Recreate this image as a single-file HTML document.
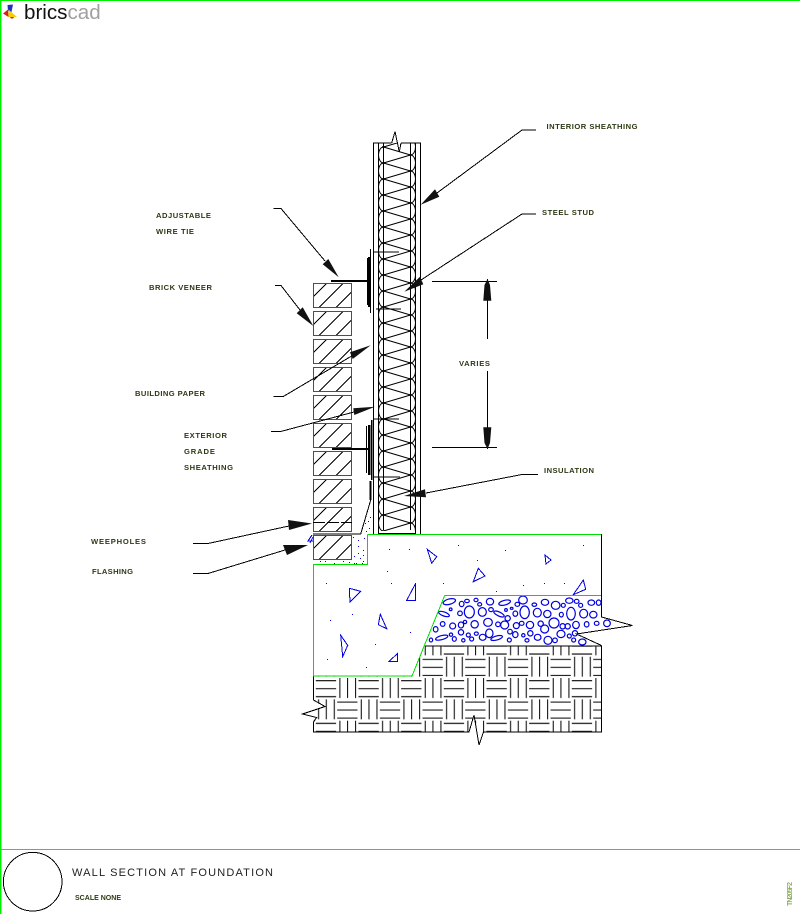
<!DOCTYPE html>
<html><head><meta charset="utf-8"><title>Wall Section at Foundation</title>
<style>html,body{margin:0;padding:0;background:#fff}svg{display:block}
text{font-family:"Liberation Sans",sans-serif}
.l{font-size:7.6px;fill:#2c3a14;font-weight:bold;stroke:none}</style></head><body>
<svg width="800" height="914" viewBox="0 0 800 914" xmlns="http://www.w3.org/2000/svg">
<defs>
<pattern id="weave" patternUnits="userSpaceOnUse" x="443.3" y="656.7" width="42.667" height="42.667">
<g stroke="#000" stroke-width="1" fill="none">
<path d="M3.3 0V20M11 0V20M19 0V20"/>
<path d="M21.9 2.7H42.2M21.9 10.7H42.2M21.9 18.7H42.2"/>
<path d="M0.5 24H20.8M0.5 32H20.8M0.5 40H20.8"/>
<path d="M24.6 21.3V41.3M32.3 21.3V41.3M40.3 21.3V41.3"/>
</g></pattern>
<clipPath id="insClip"><rect x="376" y="143" width="42" height="388"/></clipPath>
<g id="insT" fill="none" stroke="#000" stroke-width="1">
<path d="M383.5 8L410.5 0M383.5 8L410.5 16"/>
<path d="M383.5 8A5 8 0 0 0 383.5 24"/>
<path d="M410.5 0A5 8 0 0 1 410.5 16"/>
<path d="M382 8H385.5M408.5 0H412" stroke-width="1.6"/>
</g>
<g id="brick">
<path d="M0 13.4L13.4 0M6 24L30 0M22.7 24L38.4 8.3" stroke="#000" stroke-width="1" fill="none"/>
<rect x="0" y="0" width="38.4" height="24" fill="none" stroke="#e01010" stroke-width="1"/>
</g>
</defs>
<rect width="800" height="914" fill="#fff"/>

<!-- frame -->
<g shape-rendering="crispEdges">
<rect x="0" y="0" width="800" height="1" fill="#00f000"/>
<rect x="0" y="0" width="1.7" height="914" fill="#00f000"/>
<rect x="0" y="849" width="800" height="1" fill="#20e020"/>
</g>

<!-- logo -->
<polygon points="3,13.5 8,9.5 8.5,17" fill="#d82020"/>
<polygon points="7.5,5 13,4.5 11.5,12 8,11" fill="#2030c0"/>
<polygon points="8.5,9.5 17,17 8.5,17" fill="#f4d000"/>
<polygon points="10,17 14,17 13,18.5 11,18.5" fill="#d82020"/>
<text x="24" y="19" font-size="20.6" fill="#111">brics<tspan fill="#a0a0a0">cad</tspan></text>

<g shape-rendering="crispEdges">
<!-- weave -->
<polygon points="313.5,676 412,676 425,646 601.5,646 601.5,731.5 313.5,731.5" fill="url(#weave)"/>
<polygon points="313,700 325,706.5 302.5,714 316.5,717.5 313.5,722 298,722 298,700" fill="#fff"/>
<polygon points="469,732 474,715 479,745 483.5,732" fill="#fff"/>
<path d="M425 646H601.5V732H483.5L479 745L474 715L469 732H313.5V722L316.5 717.5L302.5 714L325 706.5L313.5 700V676" fill="none" stroke="#000" stroke-width="1"/>
<polygon points="600,618 602,618 631,625.5 577,633.5 601,645 444,645 444,596 600,596" fill="#fff"/>
<path d="M601.5 534V617L632.5 625.5L576.5 634L601.5 645.5" fill="none" stroke="#000" stroke-width="1"/>

<!-- wall -->
<g clip-path="url(#insClip)" shape-rendering="auto">
<use href="#insT" y="139"/><use href="#insT" y="155"/><use href="#insT" y="171"/><use href="#insT" y="187"/>
<use href="#insT" y="203"/><use href="#insT" y="219"/><use href="#insT" y="235"/><use href="#insT" y="251"/>
<use href="#insT" y="267"/><use href="#insT" y="283"/><use href="#insT" y="299"/><use href="#insT" y="315"/>
<use href="#insT" y="331"/><use href="#insT" y="347"/><use href="#insT" y="363"/><use href="#insT" y="379"/>
<use href="#insT" y="395"/><use href="#insT" y="411"/><use href="#insT" y="427"/><use href="#insT" y="443"/>
<use href="#insT" y="459"/><use href="#insT" y="475"/><use href="#insT" y="491"/><use href="#insT" y="507"/>
<use href="#insT" y="523"/>
</g>
<path d="M391.7 143H373.5V534M401 143H420.5V534M378.5 143V534M383.5 143V530M410.5 143V530M415.5 143V534M378 533.5H416" fill="none" stroke="#000" stroke-width="1"/>
<path d="M391.7 143L395 131.5L399.3 152L401 143" fill="none" stroke="#000"/>
<path d="M373 252H399M376 309H401M373 419H399M373 477H400" stroke="#000" fill="none"/>

<!-- ties -->
<path d="M331 281H369M332 449H370" stroke="#000" stroke-width="2" fill="none"/>
<path d="M369 257V307M369 425V475" stroke="#000" stroke-width="2.5" fill="none"/>
<path d="M370.5 249V313M367.5 258V305M366.5 426V473" stroke="#000" fill="none"/>
<path d="M371.5 420V480" stroke="#000" stroke-width="1.5" fill="none"/>
<path d="M370.7 481V500" stroke="#000" stroke-width="2" fill="none"/>
<path d="M370.7 500L360.7 534H313" stroke="#000" fill="none"/>

<!-- bricks -->
<use href="#brick" x="313.3" y="283.3"/><use href="#brick" x="313.3" y="311.3"/>
<use href="#brick" x="313.3" y="339.3"/><use href="#brick" x="313.3" y="367.3"/>
<use href="#brick" x="313.3" y="395.3"/><use href="#brick" x="313.3" y="423.3"/>
<use href="#brick" x="313.3" y="451.3"/><use href="#brick" x="313.3" y="479.3"/>
<use href="#brick" x="313.3" y="507.3"/><use href="#brick" x="313.3" y="535.3"/>
<path d="M313 522.5H352" stroke="#000" stroke-dasharray="12 2" fill="none"/>

<!-- aggregate -->
<g fill="none" stroke="#0000e0" transform="translate(420 560) scale(.3333)" shape-rendering="auto">
<g stroke-width="3.6">
<ellipse cx="88" cy="125" rx="19" ry="8" transform="rotate(-15 88 125)"/><circle cx="92" cy="148" r="4"/><ellipse cx="72" cy="162" rx="17" ry="6" transform="rotate(20 72 162)"/><ellipse cx="125" cy="132" rx="7" ry="8"/><ellipse cx="141" cy="123" rx="7" ry="5"/><ellipse cx="168" cy="120" rx="6" ry="5"/><ellipse cx="179" cy="133" rx="6" ry="5"/><ellipse cx="210" cy="125" rx="11" ry="10"/><ellipse cx="254" cy="128" rx="18" ry="7" transform="rotate(-15 254 128)"/><ellipse cx="309" cy="120" rx="13" ry="12"/><ellipse cx="292" cy="133" rx="7" ry="6"/><ellipse cx="343" cy="134" rx="7" ry="5"/><ellipse cx="375" cy="127" rx="11" ry="9"/><ellipse cx="407" cy="136" rx="13" ry="12"/><circle cx="430" cy="136" r="6"/><ellipse cx="448" cy="122" rx="11" ry="8"/><ellipse cx="470" cy="124" rx="7" ry="6"/><circle cx="482" cy="136" r="6"/><ellipse cx="514" cy="128" rx="10" ry="8"/><ellipse cx="536" cy="128" rx="7" ry="8"/>
<circle cx="120" cy="160" r="7"/><ellipse cx="148" cy="156" rx="15" ry="18"/><ellipse cx="187" cy="156" rx="12" ry="13"/><ellipse cx="213" cy="149" rx="7" ry="6"/><ellipse cx="237" cy="162" rx="17" ry="6" transform="rotate(25 237 162)"/><circle cx="258" cy="150" r="4"/><ellipse cx="275" cy="145" rx="4" ry="3"/><ellipse cx="286" cy="161" rx="7" ry="8"/><ellipse cx="314" cy="157" rx="14" ry="19"/><ellipse cx="352" cy="158" rx="12" ry="13"/><circle cx="382" cy="162" r="11"/><ellipse cx="424" cy="164" rx="6" ry="7"/><ellipse cx="453" cy="161" rx="13" ry="19"/><ellipse cx="491" cy="161" rx="12" ry="13"/><ellipse cx="520" cy="164" rx="11" ry="10"/>
<circle cx="68" cy="192" r="7"/><ellipse cx="47" cy="208" rx="7" ry="8"/><circle cx="98" cy="198" r="9"/><ellipse cx="123" cy="195" rx="8" ry="9"/><circle cx="135" cy="186" r="5"/><circle cx="164" cy="193" r="11"/><ellipse cx="204" cy="187" rx="13" ry="12"/><circle cx="234" cy="193" r="7"/><circle cx="263" cy="175" r="8"/><circle cx="254" cy="195" r="12"/><circle cx="289" cy="197" r="9"/><ellipse cx="305" cy="190" rx="7" ry="6"/><circle cx="330" cy="195" r="11"/><circle cx="362" cy="191" r="8"/><circle cx="374" cy="207" r="12"/><circle cx="402" cy="189" r="15"/><circle cx="428" cy="199" r="8"/><circle cx="443" cy="199" r="8"/><ellipse cx="468" cy="195" rx="10" ry="11"/><ellipse cx="500" cy="193" rx="7" ry="8"/><ellipse cx="530" cy="190" rx="7" ry="6"/><circle cx="561" cy="190" r="10"/>
<ellipse cx="33" cy="240" rx="5" ry="6"/><ellipse cx="65" cy="233" rx="19" ry="6" transform="rotate(-15 65 233)"/><circle cx="93" cy="224" r="5"/><ellipse cx="103" cy="237" rx="6" ry="7"/><circle cx="130" cy="241" r="5"/><circle cx="123" cy="217" r="8"/><circle cx="145" cy="225" r="6"/><circle cx="155" cy="237" r="6"/><ellipse cx="169" cy="221" rx="6" ry="5"/><ellipse cx="188" cy="232" rx="10" ry="9"/><ellipse cx="208" cy="220" rx="11" ry="13"/><ellipse cx="230" cy="234" rx="18" ry="6" transform="rotate(-15 230 234)"/><circle cx="268" cy="240" r="6"/><circle cx="270" cy="215" r="7"/><ellipse cx="286" cy="224" rx="8" ry="9"/><circle cx="310" cy="226" r="5"/><ellipse cx="321" cy="241" rx="6" ry="5"/><circle cx="331" cy="220" r="8"/><ellipse cx="353" cy="232" rx="10" ry="9"/><circle cx="384" cy="241" r="12"/><circle cx="405" cy="241" r="7"/><ellipse cx="423" cy="222" rx="12" ry="11"/><circle cx="448" cy="228" r="6"/><circle cx="465" cy="220" r="8"/><circle cx="461" cy="240" r="6"/><ellipse cx="487" cy="246" rx="11" ry="9"/>
</g></g>

<!-- stones in concrete -->
<g fill="none" stroke="#0000e0" stroke-width="1">
<polygon points="427.3,549.3 436.7,556.7 431.7,563.3"/>
<polygon points="349.3,588.3 360.7,591.3 350,602"/>
<polygon points="415.7,583.3 415.7,600.3 406.7,600.3"/>
<polygon points="380.3,614.3 386.7,628.7 378.3,624.7"/>
<polygon points="340.7,635.3 347.7,645.3 342.7,656.7"/>
<polygon points="397.7,653.3 397.7,661.7 388.7,661.7"/>
<polygon points="478.3,568.3 485,576 473.3,581.7"/>
<polygon points="583.3,580 585.7,589.3 573.3,594.7"/>
<polygon points="545,555 551,560 546,564"/>
<path d="M312 535L308 541H313M313 537L310 543"/>
</g>
<g fill="#0000e0">
<path d="M389 549h1v1h-1zM409 549h1v1h-1zM458 545h1v1h-1zM387 571h1v1h-1zM326 583h1v1h-1zM391 583h1v1h-1zM443 583h1v1h-1zM352 614h1v1h-1zM330 620h1v1h-1zM410 632h1v1h-1zM375 644h1v1h-1zM327 659h1v1h-1zM366 667h1v1h-1zM477 560h1v1h-1zM523 585h1v1h-1zM544 583h1v1h-1zM564 583h1v1h-1zM496 591h1v1h-1zM505 550h1v1h-1zM583 545h1v1h-1z"/>
<!-- sand -->
<path d="M370 517h1v1h-1zM368 521h1v1h-1zM365 523h1v1h-1zM369 528h1v1h-1zM366 531h1v1h-1zM358 546h1v1h-1zM358 553h1v1h-1zM363 550h1v1h-1zM363 555h1v1h-1zM354 556h1v1h-1zM360 558h1v1h-1zM363 561h1v1h-1zM354 563h1v1h-1zM320 561h1v1h-1zM325 561h1v1h-1zM334 563h1v1h-1zM343 561h1v1h-1zM349 562h1v1h-1zM356 563h1v1h-1zM362 563h1v1h-1zM353 537h1v1h-1zM358 540h1v1h-1zM364 538h1v1h-1z"/>
</g>

<!-- concrete outline -->
<path d="M367.7 534.5V564.5H313.5V676H412L444.7 595.5H601.5M367.7 534.5H601.5" fill="none" stroke="#00e000" stroke-width="1"/>
<path d="M601.5 534V596" stroke="#000" fill="none"/>
<!-- dimension -->
<path d="M432 281.5H497M432 447.5H497M487.5 279V339M487.5 371V449" stroke="#000" fill="none"/>
<!-- leaders -->
<path d="M536 130H522L437 193" stroke="#000" fill="none"/>
<path d="M536 214H522L421 280" stroke="#000" fill="none"/>
<path d="M273.3 208.5H281L325 261" stroke="#000" fill="none"/>
<path d="M275 285.5H281L300 310" stroke="#000" fill="none"/>
<path d="M273.3 396.5H283.3L351.7 356" stroke="#000" fill="none"/>
<path d="M271 431.5H280.7L354 412" stroke="#000" fill="none"/>
<path d="M538 474.5H522L426 493" stroke="#000" fill="none"/>
<path d="M193 543.5H208L289 526" stroke="#000" fill="none"/>
<path d="M193 573.5H208L285 550" stroke="#000" fill="none"/>
<circle cx="32.7" cy="881.7" r="29.3" fill="none" stroke="#000" stroke-width="1"/>
</g>

<!-- arrowheads -->
<g fill="#111">
<polygon points="420.7,204.7 435,189.3 439.3,196.7"/>
<polygon points="404.3,291.7 420,276.7 423.3,284.3"/>
<polygon points="338.7,277.3 328.3,259 322.7,264.3"/>
<polygon points="313.3,326 302.7,307.3 296.7,313.3"/>
<polygon points="370.7,345.3 350,352.3 352.7,359"/>
<polygon points="375,406.7 353.3,408.3 354.3,415"/>
<polygon points="404,496 425,489.3 426,497.3"/>
<polygon points="487.5,279 484.5,285 483.3,300.7 491.3,300.7 490,285"/>
<polygon points="487.5,449 484.5,443 483.3,427.3 491.3,427.3 490,443"/>
<polygon points="312,523.5 288,520 289,530"/>
<polygon points="308,545 283,545 287,555"/>
</g>

<!-- labels -->
<g>
<text class="l" x="156" y="218" textLength="55">ADJUSTABLE</text>
<text class="l" x="156" y="234" textLength="38">WIRE TIE</text>
<text class="l" x="149" y="290" textLength="63">BRICK VENEER</text>
<text class="l" x="135" y="396" textLength="70">BUILDING PAPER</text>
<text class="l" x="184" y="438" textLength="43">EXTERIOR</text>
<text class="l" x="184" y="454" textLength="31">GRADE</text>
<text class="l" x="184" y="470" textLength="49">SHEATHING</text>
<text class="l" x="91" y="544" textLength="55">WEEPHOLES</text>
<text class="l" x="92" y="574" textLength="41">FLASHING</text>
<text class="l" x="546.5" y="129" textLength="91">INTERIOR SHEATHING</text>
<text class="l" x="542" y="215" textLength="52">STEEL STUD</text>
<text class="l" x="459" y="366" textLength="31">VARIES</text>
<text class="l" x="544" y="473" textLength="50">INSULATION</text>
<text x="72" y="876" font-size="11" fill="#222" textLength="201">WALL SECTION AT FOUNDATION</text>
<text class="l" x="75" y="900" textLength="46" style="font-size:7px">SCALE NONE</text>
<text transform="translate(792 906) rotate(-90)" font-size="7" fill="#8fb060" font-weight="bold" textLength="24">TN205F2</text>
</g>
</svg>
</body></html>
